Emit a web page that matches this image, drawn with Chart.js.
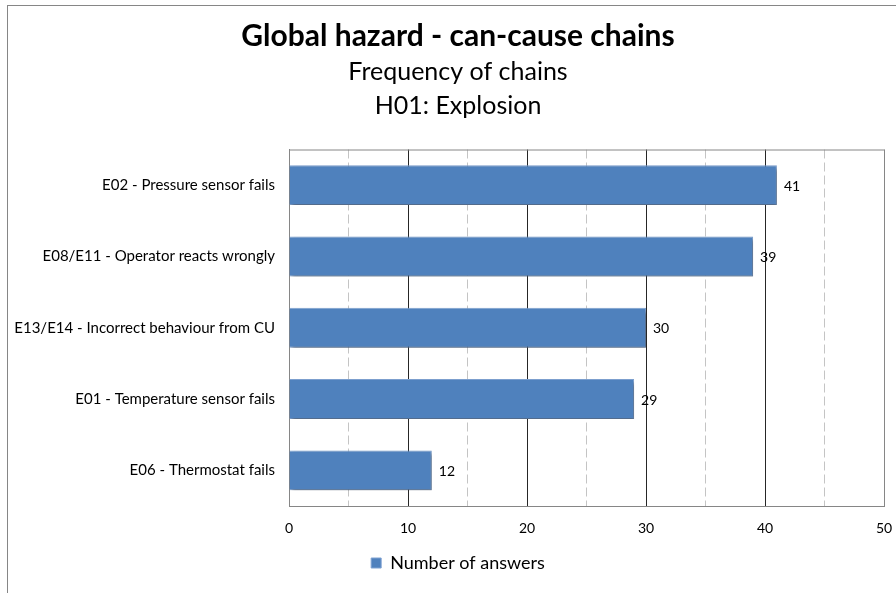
<!DOCTYPE html>
<html>
<head>
<meta charset="utf-8">
<script src="https://cdn.jsdelivr.net/npm/chart.js@4.4.1/dist/chart.umd.min.js"></script>
<style>
  html, body { margin: 0; padding: 0; background: #fff; overflow: hidden; }
  #frame {
    position: absolute; left: 7px; top: 5px;
    width: 900px; height: 600px;
    border-left: 1px solid #868686; border-top: 1px solid #868686;
  }
  #wrap { position: absolute; left: 0; top: 0; width: 900px; height: 588px; }
</style>
</head>
<body>
<div id="frame"><div id="wrap"><canvas id="chart"></canvas></div></div>
<script>
// Chain causes and how many answers named each one
const causes = [
  'E02 - Pressure sensor fails',
  'E08/E11 - Operator reacts wrongly',
  'E13/E14 - Incorrect behaviour from CU',
  'E01 - Temperature sensor fails',
  'E06 - Thermostat fails'
];
const answers = [41, 39, 30, 29, 12];
const seriesName = 'Number of answers';
const titleText = 'Global hazard - can-cause chains';
const subtitleLines = ['Frequency of chains', 'H01: Explosion'];
const axisMin = 0, axisMax = 50, minorStep = 5, majorStep = 10;

const FONT = 'Lato, "Open Sans", sans-serif';
const BAR = '#4F81BD';

// Soft drop shadow under the bars
const barShadow = {
  id: 'barShadow',
  beforeDatasetsDraw(chart) {
    const c = chart.ctx;
    c.save();
    c.shadowColor = 'rgba(0,0,0,0.38)';
    c.shadowBlur = 4;
    c.shadowOffsetX = 2;
    c.shadowOffsetY = 3;
  },
  afterDatasetsDraw(chart) {
    chart.ctx.restore();
  }
};

// Value written just past the end of every bar, plus the plot frame
const barValues = {
  id: 'barValues',
  afterDatasetsDraw(chart) {
    const c = chart.ctx;
    const meta = chart.getDatasetMeta(0);
    const data = chart.data.datasets[0].data;
    c.save();
    c.shadowColor = 'transparent';
    c.font = '14px ' + FONT;
    c.fillStyle = '#000';
    c.textAlign = 'left';
    c.textBaseline = 'middle';
    meta.data.forEach((bar, i) => {
      c.fillText(String(data[i]), bar.x + 7, bar.y + 1);
    });
    const a = chart.chartArea;
    c.strokeStyle = '#868686';
    c.lineWidth = 1;
    c.beginPath();
    c.moveTo(a.left, a.top + 0.5);
    c.lineTo(a.right + 0.5, a.top + 0.5);
    c.lineTo(a.right + 0.5, a.bottom);
    c.stroke();
    c.restore();
  }
};

new Chart(document.getElementById('chart'), {
  type: 'bar',
  data: {
    labels: causes,
    datasets: [{
      label: seriesName,
      data: answers,
      backgroundColor: BAR,
      borderColor: '#7ea2d2',
      borderWidth: 1,
      categoryPercentage: 1,
      barPercentage: 0.56
    }]
  },
  options: {
    indexAxis: 'y',
    responsive: true,
    maintainAspectRatio: false,
    animation: false,
    layout: { padding: { left: 0, right: 0, top: 0, bottom: 12 } },
    scales: {
      x: {
        min: axisMin,
        max: axisMax,
        ticks: {
          stepSize: minorStep,
          autoSkip: false,
          padding: 14,
          color: '#000',
          font: { family: FONT, size: 14 },
          // minor steps keep their dashed grid line but carry no label
          callback: v => (v % majorStep === 0 ? v : '')
        },
        grid: {
          drawTicks: false,
          lineWidth: 1,
          color: ctx => {
            const v = ctx.tick ? ctx.tick.value : 0;
            if (v === axisMin || v === axisMax) return '#868686';
            return v % majorStep === 0 ? '#262626' : '#c4c4c4';
          }
        },
        border: {
          color: '#868686',
          dash: ctx => (ctx.tick && ctx.tick.value % majorStep !== 0 ? [9, 4] : [])
        },
        afterFit: s => { s.height = 38; }
      },
      y: {
        ticks: {
          padding: 14,
          color: '#000',
          font: { family: FONT, size: 15 }
        },
        grid: { display: false, drawTicks: false },
        border: { color: '#868686' },
        afterFit: s => { s.width = 281; }
      },
      // empty strip on the right keeps a margin beside the plot
      margin: {
        type: 'linear',
        position: 'right',
        display: true,
        ticks: { display: false },
        grid: { display: false, drawTicks: false },
        border: { display: false },
        afterFit: s => { s.width = 24; }
      }
    },
    plugins: {
      title: {
        display: true,
        text: titleText,
        color: '#000',
        font: { family: FONT, size: 30, weight: 'bold' },
        padding: { top: 12, bottom: 1 }
      },
      subtitle: {
        display: true,
        text: subtitleLines,
        color: '#000',
        font: { family: FONT, size: 25, lineHeight: 1.35 },
        padding: { top: 0, bottom: 27 }
      },
      legend: {
        position: 'bottom',
        labels: {
          boxWidth: 10,
          boxHeight: 10,
          color: '#000',
          font: { family: FONT, size: 18 }
        }
      },
      tooltip: { enabled: false }
    }
  },
  plugins: [barShadow, barValues]
});
</script>
</body>
</html>
